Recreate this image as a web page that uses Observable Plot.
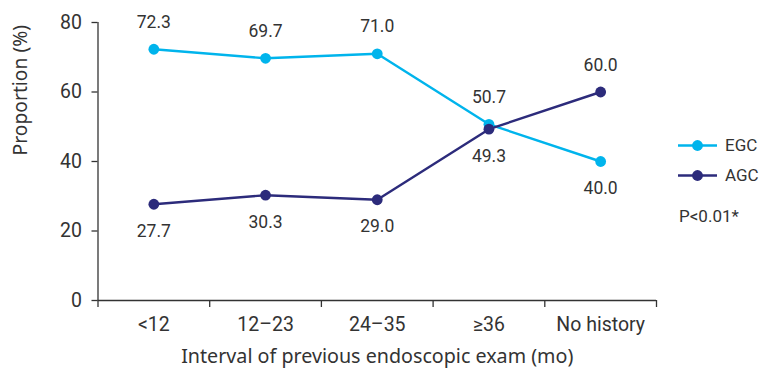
<!DOCTYPE html>
<html><head><meta charset="utf-8">
<script src="https://cdn.jsdelivr.net/npm/d3@7"></script>
<script src="https://cdn.jsdelivr.net/npm/@observablehq/plot@0.6"></script>
<style>
body{margin:0;background:#fff;}
#wrap{position:relative;width:761px;height:369px;overflow:hidden;}
#legend{position:absolute;left:0;top:0;width:761px;height:369px;pointer-events:none;}
</style></head><body><div id="wrap"></div>
<script>
const categories = ["<12", "12–23", "24–35", "≥36", "No history"];
const egcValues = [72.3, 69.7, 71.0, 50.7, 40.0];
const agcValues = [27.7, 30.3, 29.0, 49.3, 60.0];
const yTicks = [0, 20, 40, 60, 80];
const seriesNames = ["EGC", "AGC"];
const seriesColors = ["#00b4ec", "#2c2b7b"];
const xTitle = "Interval of previous endoscopic exam (mo)";
const yTitle = "Proportion (%)";
const pText = "P<0.01*";

const data = [];
categories.forEach((c, i) => {
  data.push({cat: c, i, series: "EGC", value: egcValues[i], above: egcValues[i] >= agcValues[i]});
  data.push({cat: c, i, series: "AGC", value: agcValues[i], above: agcValues[i] > egcValues[i]});
});

const ink = "#333";
const chart = Plot.plot({
  width: 761, height: 369,
  marginLeft: 97.5, marginRight: 105, marginTop: 22, marginBottom: 69,
  style: {fontFamily: "Roboto", color: ink, background: "#fff", overflow: "visible"},
  x: {type: "linear", domain: [-0.5, categories.length - 0.5]},
  y: {domain: [0, 80]},
  color: {domain: seriesNames, range: seriesColors},
  marks: [
    Plot.axisY({ticks: yTicks, tickSize: 6, tickPadding: 10, fontSize: 19.5, label: null, stroke: ink, strokeWidth: 1.3}),
    Plot.axisX({ticks: d3.range(-0.5, categories.length, 1), tickSize: 7, tickFormat: () => "", label: null, stroke: ink, strokeWidth: 1.3}),
    Plot.axisX({ticks: d3.range(categories.length), tickSize: 0, tickPadding: 16.5, tickFormat: i => categories[i], fontSize: 19.5, label: null}),
    Plot.ruleY([0], {stroke: ink, strokeWidth: 1.3}),
    Plot.ruleX([-0.5], {stroke: ink, strokeWidth: 1.3}),
    Plot.text([xTitle], {frameAnchor: "bottom", dy: 62.5, fontSize: 19.7, fontFamily: "Noto Sans", fill: ink}),
    Plot.text([yTitle], {frameAnchor: "left", dx: -77, dy: -6, rotate: -90, fontSize: 19.3, fontFamily: "Noto Sans", fill: ink}),
    Plot.line(data, {x: "i", y: "value", z: "series", stroke: "series", strokeWidth: 2.4}),
    Plot.dot(data, {x: "i", y: "value", fill: "series", r: 5.4}),
    Plot.text(data.filter(d => d.above), {x: "i", y: "value", text: d => d.value.toFixed(1), dy: -27, fontSize: 17.5, fill: ink}),
    Plot.text(data.filter(d => !d.above), {x: "i", y: "value", text: d => d.value.toFixed(1), dy: 27, fontSize: 17.5, fill: ink})
  ]
});
const wrap = document.getElementById("wrap");
wrap.appendChild(chart);

// Legend overlay (right side)
const ns = "http://www.w3.org/2000/svg";
const leg = document.createElementNS(ns, "svg");
leg.setAttribute("id", "legend");
leg.setAttribute("width", 761); leg.setAttribute("height", 369);
const rows = [145.5, 175.5];
seriesNames.forEach((name, k) => {
  const y = rows[k];
  const line = document.createElementNS(ns, "line");
  line.setAttribute("x1", 678); line.setAttribute("x2", 717);
  line.setAttribute("y1", y); line.setAttribute("y2", y);
  line.setAttribute("stroke", seriesColors[k]); line.setAttribute("stroke-width", 2.4);
  leg.appendChild(line);
  const c = document.createElementNS(ns, "circle");
  c.setAttribute("cx", 697.5); c.setAttribute("cy", y); c.setAttribute("r", 5.4);
  c.setAttribute("fill", seriesColors[k]);
  leg.appendChild(c);
  const t = document.createElementNS(ns, "text");
  t.setAttribute("x", 725); t.setAttribute("y", y); t.setAttribute("dy", "0.35em");
  t.setAttribute("font-family", "Roboto"); t.setAttribute("font-size", 17);
  t.setAttribute("fill", ink);
  t.textContent = name;
  leg.appendChild(t);
});
const pt = document.createElementNS(ns, "text");
pt.setAttribute("x", 679); pt.setAttribute("y", 216.5); pt.setAttribute("dy", "0.35em");
pt.setAttribute("font-family", "Roboto"); pt.setAttribute("font-size", 17);
pt.setAttribute("fill", ink);
pt.textContent = pText;
leg.appendChild(pt);
wrap.appendChild(leg);
</script>
</body></html>
